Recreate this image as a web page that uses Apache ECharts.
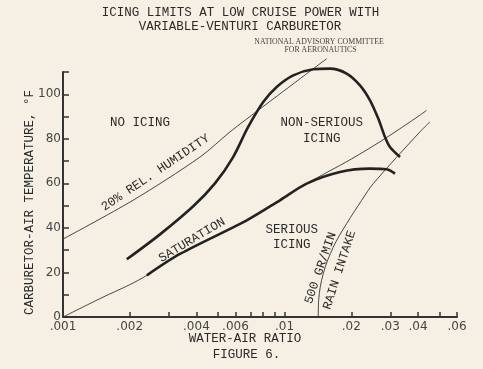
<!DOCTYPE html>
<html>
<head>
<meta charset="utf-8">
<script src="https://cdn.jsdelivr.net/npm/echarts@6/dist/echarts.min.js"></script>
<style>
html,body{margin:0;padding:0;background:#f5f0e3;}
#chart{width:483px;height:369px;}
</style>
</head>
<body>
<div id="chart"></div>
<script>
// ---- Data (water-air ratio, temperature °F) ----
const humidity20X = [0.001, 0.00207, 0.00415, 0.00567, 0.0076, 0.0155];
const humidity20Y = [35, 52.4, 71.8, 83.1, 92.8, 116];

const saturationX = [0.001, 0.0015, 0.002, 0.00239, 0.00337, 0.00675, 0.00953, 0.01258, 0.02, 0.02838, 0.0408, 0.04375];
const saturationY = [0, 8.7, 14.5, 18.7, 28.3, 43.4, 52.4, 59.9, 70.9, 80.1, 90.6, 92.8];

const seriousX = [0.00239, 0.00337, 0.00675, 0.00953, 0.01258, 0.01778, 0.02429, 0.02889, 0.0315];
const seriousY = [18.7, 28.3, 43.4, 52.4, 59.9, 65.1, 66.6, 66.3, 64.4];

const icingLimitX = [0.00194, 0.00274, 0.00387, 0.00485, 0.00585, 0.00684, 0.00801, 0.00921, 0.01095, 0.01348, 0.01603, 0.01906, 0.02189, 0.02429, 0.02647, 0.02838, 0.02989, 0.0332];
const icingLimitY = [25.9, 37.1, 49.7, 60.0, 71.7, 85.2, 96.5, 103.3, 108.5, 111.2, 111.5, 109.3, 104.0, 97.3, 89.1, 80.8, 76.3, 71.8];

const rainX = [0.01419, 0.01425, 0.01495, 0.01659, 0.01905, 0.02229, 0.02514, 0.0408, 0.04531];
const rainY = [0, 7.5, 19.5, 31.4, 41.9, 52.4, 59.9, 83.1, 87.6];

const xTickValues = [0.001, 0.002, 0.003, 0.004, 0.005, 0.006, 0.007, 0.008, 0.009, 0.01, 0.02, 0.03, 0.04, 0.05, 0.06];
const xLabelValues = [0.001, 0.002, 0.004, 0.006, 0.01, 0.02, 0.03, 0.04, 0.06];
const xLabelTexts = ['.001', '.002', '.004', '.006', '.01', '.02', '.03', '.04', '.06'];
const yLabelValues = [0, 20, 40, 60, 80, 100];

// ---- Build ----
const L = Math.log10;
const pts = (xs, ys) => xs.map((x, i) => [L(x), ys[i]]);
const ink = '#2a2a2a';
const mono = '"Liberation Mono", "DejaVu Sans Mono", monospace';

function labelFor(v) {
  let best = 0, bd = Infinity;
  xLabelValues.forEach((x, i) => { const d = Math.abs(L(x) - v); if (d < bd) { bd = d; best = i; } });
  return xLabelTexts[best];
}

function txt(text, x, y, opts) {
  opts = opts || {};
  return {
    type: 'text', x: x, y: y,
    rotation: (opts.rot || 0) * Math.PI / 180,
    z: 100,
    style: {
      text: text,
      fill: opts.color || ink,
      font: (opts.size || 12.5) + 'px ' + (opts.family || mono),
      textAlign: 'center',
      textVerticalAlign: 'middle'
    }
  };
}

const chart = echarts.init(document.getElementById('chart'));
chart.setOption({
  animation: false,
  backgroundColor: '#f5f0e3',
  grid: { left: 63, right: 26, top: 72, bottom: 52 },
  xAxis: {
    type: 'value',
    min: L(0.001),
    max: L(0.06),
    axisLine: { show: true, onZero: false, lineStyle: { color: '#333', width: 2 } },
    axisTick: { show: true, inside: true, length: 5, customValues: xTickValues.map(L), lineStyle: { color: '#333', width: 1.5 } },
    axisLabel: { customValues: xLabelValues.map(L), formatter: labelFor, margin: 4, color: '#444', fontSize: 12, fontFamily: '"DejaVu Sans", sans-serif' },
    splitLine: { show: false }
  },
  yAxis: {
    type: 'value',
    min: 0,
    max: 110,
    interval: 10,
    axisLine: { show: true, onZero: false, lineStyle: { color: '#333', width: 2 } },
    axisTick: { show: true, inside: true, length: 6, lineStyle: { color: '#333', width: 1.5 } },
    axisLabel: { customValues: yLabelValues, margin: 2, color: '#444', fontSize: 12, fontFamily: '"DejaVu Sans", sans-serif' },
    splitLine: { show: false }
  },
  series: [
    { name: '20% rel. humidity', type: 'line', data: pts(humidity20X, humidity20Y), smooth: 0.3, showSymbol: false, clip: false,
      lineStyle: { color: '#333', width: 0.9 }, z: 2 },
    { name: 'Saturation', type: 'line', data: pts(saturationX, saturationY), smooth: 0.3, showSymbol: false, clip: false,
      lineStyle: { color: '#333', width: 0.9 }, z: 2 },
    { name: '500 gr/min rain intake', type: 'line', data: pts(rainX, rainY), smooth: 0.35, showSymbol: false, clip: false,
      lineStyle: { color: '#333', width: 0.9 }, z: 2 },
    { name: 'Serious icing limit', type: 'line', data: pts(seriousX, seriousY), smooth: 0.3, showSymbol: false, clip: false,
      lineStyle: { color: '#222', width: 2.6 }, z: 3 },
    { name: 'Icing limit', type: 'line', data: pts(icingLimitX, icingLimitY), smooth: 0.3, showSymbol: false, clip: false,
      lineStyle: { color: '#222', width: 2.6 }, z: 3 }
  ],
  graphic: [
    txt('ICING LIMITS AT LOW CRUISE POWER WITH', 240.5, 13),
    txt('VARIABLE-VENTURI CARBURETOR', 240, 26.5),
    txt('NATIONAL ADVISORY COMMITTEE', 319, 41.5, { size: 7.8, family: '"Liberation Serif", serif', color: '#444' }),
    txt('FOR AERONAUTICS', 320.5, 49.5, { size: 7.8, family: '"Liberation Serif", serif', color: '#444' }),
    txt('CARBURETOR-AIR TEMPERATURE, °F', 29.5, 202.5, { rot: 90 }),
    txt('WATER-AIR RATIO', 245, 339),
    txt('FIGURE 6.', 246.5, 355),
    txt('NO ICING', 140, 123),
    txt('NON-SERIOUS', 321.7, 123),
    txt('ICING', 321.7, 138.5),
    txt('SERIOUS', 291.7, 229.5),
    txt('ICING', 291.7, 245),
    txt('20% REL. HUMIDITY', 155.5, 172.7, { rot: 34 }),
    txt('SATURATION', 192, 240, { rot: 31 }),
    txt('500 GR/MIN', 320.5, 268, { rot: 71 }),
    txt('RAIN INTAKE', 339.5, 270, { rot: 72 })
  ]
});
</script>
</body>
</html>
